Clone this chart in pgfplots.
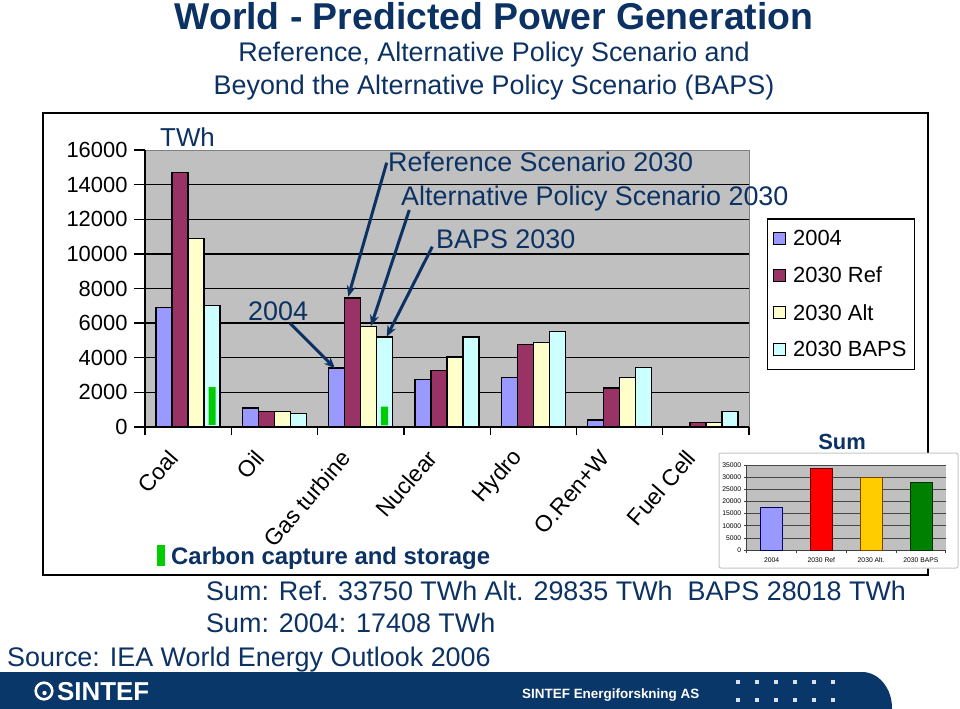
\documentclass[border=0pt]{standalone}
\usepackage{pgfplots}
\pgfplotsset{compat=1.18}
\usepackage{pgfplotstable}
\usepackage{fontspec}
\setmainfont{Liberation Sans}
\usetikzlibrary{arrows.meta}

\definecolor{navy}{RGB}{12,50,100}
\definecolor{plotgray}{RGB}{192,192,192}
\definecolor{cA}{RGB}{153,153,255}
\definecolor{cB}{RGB}{153,51,102}
\definecolor{cC}{RGB}{255,255,204}
\definecolor{cD}{RGB}{204,255,255}
\definecolor{ccs}{RGB}{0,204,0}
\definecolor{footer}{RGB}{10,55,105}
\definecolor{sumB}{RGB}{255,0,0}
\definecolor{sumC}{RGB}{255,204,0}
\definecolor{sumD}{RGB}{0,128,0}

% TWh per source: 2004, 2030 Ref, 2030 Alt, 2030 BAPS
\pgfplotstableread{
x y2004 yref yalt ybaps
0 6900 14700 10900 7000
1 1100 900 900 800
2 3400 7450 5800 5200
3 2750 3250 4050 5200
4 2850 4750 4900 5500
5 400 2250 2850 3450
6 0 280 250 900
}\gen

% carbon capture part of BAPS (base, height)
\pgfplotstableread{
x base ccs
0 120 2180
2 100 1080
}\ccs

\pgfplotstableread{
x y
0 17408
1 33750
2 29835
3 28018
}\sums

\newcommand{\fs}[1]{\fontsize{#1}{#1}\selectfont}

\begin{document}
\begin{tikzpicture}[x=1bp,y=1bp]
\useasboundingbox (0,0) rectangle (960,-709);
\fill[white] (0,0) rectangle (960,-709);

% titles
\node[navy, font=\bfseries\fs{37.5}, anchor=base] at (494,-29.5) {World - Predicted Power Generation};
\node[navy, font=\fs{27}, anchor=base] at (494,-61.5) {Reference, Alternative Policy Scenario and};
\node[navy, font=\fs{27}, anchor=base] at (494,-94.5) {Beyond the Alternative Policy Scenario (BAPS)};

% chart frame
\draw[black, line width=1.5bp] (43,-113) rectangle (928,-575);

\begin{axis}[
  at={(145bp,-427bp)}, anchor=south west,
  scale only axis, width=604bp, height=277bp,
  xmin=-0.5, xmax=6.5, ymin=0, ymax=16000,
  ybar=0pt, bar width=16bp,
  axis background/.style={fill=plotgray, draw=gray, line width=0.8bp},
  axis x line*=bottom, axis y line*=left,
  axis line style={black, line width=1.3bp, -},
  tick align=outside,
  major tick length=11bp, minor tick length=8bp,
  ytick={0,2000,...,14000},
  extra y ticks={16000}, extra y tick style={grid=none},
  ymajorgrids, major grid style={black, line width=1.3bp},
  scaled y ticks=false,
  /pgf/number format/1000 sep={},
  /pgf/number format/assume math mode=true,
  ytick style={black, line width=1.3bp},
  yticklabel style={font=\fs{22}, black, xshift=-3bp},
  xtick={0,...,6},
  xticklabels={Coal, Oil, Gas turbine, Nuclear, Hydro, O.Ren+W, Fuel Cell},
  major x tick style={draw=none},
  minor xtick={-0.5,0.5,...,6.5},
  minor x tick style={black, line width=1.3bp},
  xticklabel style={font=\fs{23}, anchor=east, inner sep=1bp, xshift=-14bp, yshift=-15bp, rotate=49},
  every axis plot/.append style={draw=black, line width=1.3bp,
    legend image code/.code={\draw[#1, line width=1bp] (0bp,-6bp) rectangle (12bp,6bp);}},
  legend style={at={(1.029,0.753)}, anchor=north west, draw=black, line width=1.2bp,
    fill=white, font=\fs{22}, row sep=16bp, column sep=5bp, inner xsep=6bp, inner ysep=9bp,
    cells={anchor=west}},
]
\addplot[fill=cA] table[x=x, y=y2004] {\gen};
\addlegendentry{2004}
\addplot[fill=cB] table[x=x, y=yref] {\gen};
\addlegendentry{2030 Ref}
\addplot[fill=cC] table[x=x, y=yalt] {\gen};
\addlegendentry{2030 Alt}
\addplot[fill=cD] table[x=x, y=ybaps] {\gen};
\addlegendentry{2030 BAPS}
\end{axis}

% carbon capture bars inside the BAPS bars
\begin{axis}[
  at={(145bp,-427bp)}, anchor=south west,
  scale only axis, width=604bp, height=277bp,
  xmin=-0.5, xmax=6.5, ymin=0, ymax=16000,
  hide axis, ybar stacked, bar width=7bp, bar shift=24bp,
]
\addplot[draw=none, fill=none] table[x=x, y=base] {\ccs};
\addplot[draw=none, fill=ccs] table[x=x, y=ccs] {\ccs};
\end{axis}

% unit and annotations
\node[navy, font=\fs{26}, anchor=base west, inner sep=0] at (160,-146.3) {TWh};
\begin{scope}[navy, font=\fs{27}]
\node[anchor=base west, inner sep=0] at (388,-171.7) {Reference Scenario 2030};
\node[anchor=base west, inner sep=0] at (401,-205.7) {Alternative Policy Scenario 2030};
\node[anchor=base west, inner sep=0] at (436,-248.7) {BAPS 2030};
\node[anchor=base west, inner sep=0] at (248,-320.7) {2004};
\end{scope}
\begin{scope}[navy, line width=3bp, -{Stealth[length=11bp, width=9bp]}]
\draw (386.7,-162.7) -- (348.3,-296.7);
\draw (409.3,-210) -- (371,-326);
\draw (432.3,-246.7) -- (386.7,-336.7);
\draw (290,-323.3) -- (335,-368.3);
\end{scope}

% inset: sums
\node[navy, font=\bfseries\fs{22}, anchor=base] at (842,-449) {Sum};
\draw[gray!45, fill=white, line width=1bp, rounded corners=2bp] (719,-453) rectangle (958,-568);
\begin{axis}[
  at={(746.7bp,-550bp)}, anchor=south west,
  scale only axis, width=199bp, height=85bp,
  xmin=-0.5, xmax=3.5, ymin=0, ymax=35000,
  ybar, bar width=22bp, bar shift=0pt,
  axis background/.style={fill=plotgray},
  axis x line*=bottom, axis y line*=left,
  axis line style={gray!50!black, line width=0.6bp, -},
  tick align=outside, major tick length=3bp, minor tick length=3bp,
  ytick={0,5000,...,35000},
  ymajorgrids, major grid style={gray!55!black, line width=0.5bp},
  scaled y ticks=false,
  /pgf/number format/1000 sep={},
  /pgf/number format/assume math mode=true,
  ytick style={gray!50!black, line width=0.5bp},
  yticklabel style={font=\fs{6.8}, black, xshift=1bp},
  xtick={0,...,3},
  xticklabels={2004, 2030 Ref, 2030 Alt., 2030 BAPS},
  major x tick style={draw=none},
  minor xtick={-0.5,0.5,...,3.5},
  minor x tick style={gray!50!black, line width=0.5bp},
  xticklabel style={font=\fs{6.8}, black, yshift=-1bp},
]
\addplot[fill=cA, draw=blue!40!black, line width=0.6bp] coordinates {(0,17408)};
\addplot[fill=sumB, draw=red!40!black, line width=0.6bp] coordinates {(1,33750)};
\addplot[fill=sumC, draw=orange!50!black, line width=0.6bp] coordinates {(2,29835)};
\addplot[fill=sumD, draw=green!20!black, line width=0.6bp] coordinates {(3,28018)};
\end{axis}

% carbon capture key and totals
\fill[ccs] (157,-545) rectangle (165,-566);
\node[navy, font=\bfseries\fs{24}, anchor=base west, inner sep=0] at (171,-564.6) {Carbon capture and storage};
\node[navy, font=\fs{27}, anchor=base west, inner sep=0] at (206,-600.7) {Sum: Ref. 33750 TWh Alt. 29835 TWh\ \ BAPS 28018 TWh};
\node[navy, font=\fs{27}, anchor=base west, inner sep=0] at (206,-632.7) {Sum: 2004: 17408 TWh};
\node[navy, font=\fs{27}, anchor=base west, inner sep=0] at (7,-666.7) {Source: IEA World Energy Outlook 2006};

% footer
\fill[footer] (0,-672) -- (862,-672) arc[start angle=90, end angle=0, x radius=30, y radius=36] -- (892,-709) -- (0,-709) -- cycle;
\draw[white, line width=2.6bp] (44,-691) circle (8.3);
\fill[white] (44.5,-693) circle (2.2);
\node[white, font=\bfseries\fs{26}, anchor=west, inner sep=0] at (57,-691.5) {SINTEF};
\node[white, font=\bfseries\fs{13.5}, anchor=base west, inner sep=0] at (522,-698) {SINTEF Energiforskning AS};
\foreach \xx in {738,757,776,795,814,833} {
  \foreach \yy in {682,700} {
    \fill[white!85!footer] (\xx-1.6,-\yy-1.6) rectangle (\xx+1.6,-\yy+1.6);
  }
}
\end{tikzpicture}
\end{document}
